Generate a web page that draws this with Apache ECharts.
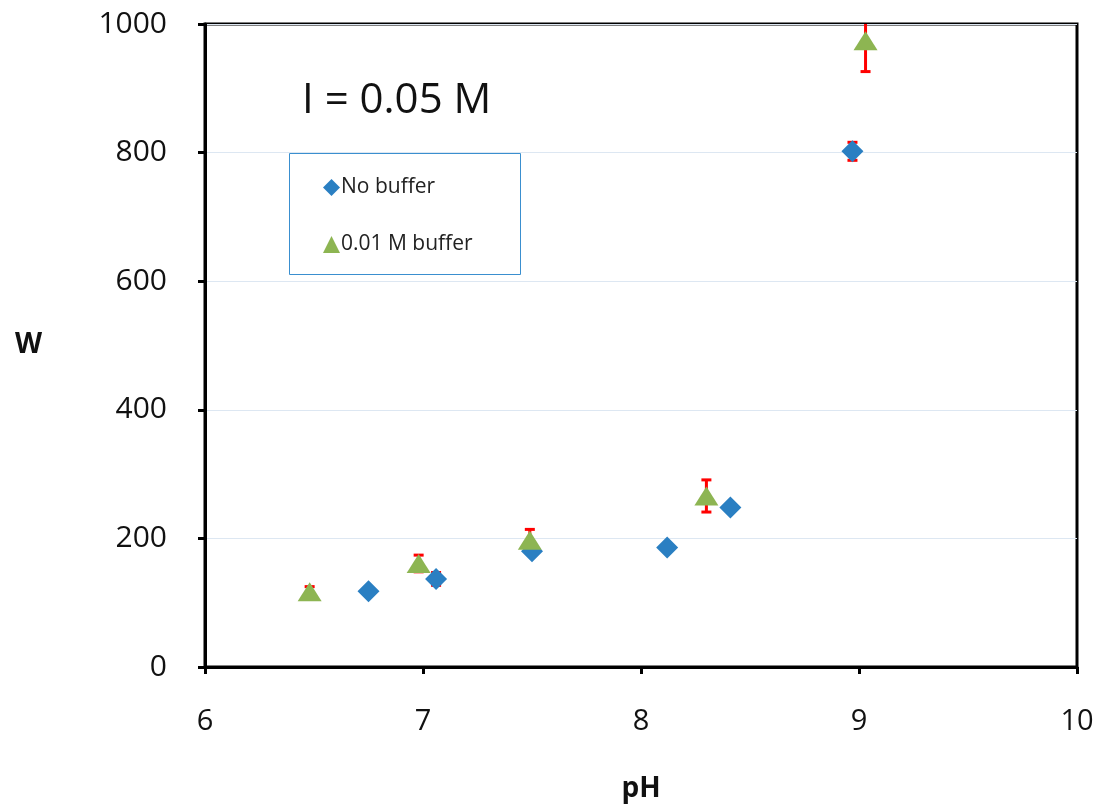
<!DOCTYPE html>
<html>
<head>
<meta charset="utf-8">
<script src="https://cdn.jsdelivr.net/npm/echarts@6/dist/echarts.min.js"></script>
<style>
html,body{margin:0;padding:0;background:#fff;}
#chart{width:1103px;height:808px;}
</style>
</head>
<body>
<div id="chart"></div>
<script>
// ---- Data ----
const phNoBuffer  = [6.75, 7.06, 7.50, 8.12, 8.41, 8.97];
const wNoBuffer   = [118, 137, 180, 186, 248, 802];
const errNoBuffer = [3, 10, 5, 3, 3, 14];

const phBuffer  = [6.48, 6.98, 7.49, 8.30, 9.03];
const wBuffer   = [117, 161, 197, 266, 974];
const errBuffer = [8, 13, 17, 25, 48];

const seriesNames = ['No buffer', '0.01 M buffer'];
const annotation = 'I = 0.05 M';
const xTicks = [6, 7, 8, 9, 10];
const yTicks = [0, 200, 400, 600, 800, 1000];

// ---- Build ----
const noBufData = phNoBuffer.map((x, i) => [x, wNoBuffer[i]]);
const bufData = phBuffer.map((x, i) => [x, wBuffer[i]]);
const errData = phNoBuffer.map((x, i) => [x, wNoBuffer[i] - errNoBuffer[i], wNoBuffer[i] + errNoBuffer[i]])
  .concat(phBuffer.map((x, i) => [x, wBuffer[i] - errBuffer[i], wBuffer[i] + errBuffer[i]]));

function renderErr(params, api) {
  const x = api.value(0);
  const lo = api.coord([x, api.value(1)]);
  const hi = api.coord([x, api.value(2)]);
  const cap = 5;
  const style = { stroke: '#ff0000', lineWidth: 3, fill: null };
  return {
    type: 'group',
    children: [
      { type: 'line', shape: { x1: lo[0], y1: lo[1], x2: hi[0], y2: hi[1] }, style: style },
      { type: 'line', shape: { x1: lo[0] - cap, y1: lo[1], x2: lo[0] + cap, y2: lo[1] }, style: style },
      { type: 'line', shape: { x1: hi[0] - cap, y1: hi[1], x2: hi[0] + cap, y2: hi[1] }, style: style }
    ]
  };
}

const chart = echarts.init(document.getElementById('chart'), null, { renderer: 'canvas' });
const fontFam = '"Open Sans", "Noto Sans", sans-serif';

chart.setOption({
  backgroundColor: '#ffffff',
  animation: false,
  grid: {
    left: 205, right: 26, top: 24, bottom: 140,
    show: true, borderColor: '#000', borderWidth: 3, backgroundColor: 'transparent'
  },
  legend: {
    data: [
      { name: seriesNames[0], icon: 'diamond' },
      { name: seriesNames[1], icon: 'triangle' }
    ],
    orient: 'vertical',
    left: 318, top: 172,
    itemWidth: 17, itemHeight: 17,
    itemGap: 36,
    textStyle: { fontFamily: fontFam, fontSize: 21, color: '#222', padding: [0, 0, 0, -4] }
  },
  graphic: [
    { type: 'rect', left: 289, top: 153, shape: { width: 231, height: 121 },
      style: { fill: 'rgba(255,255,255,0)', stroke: '#3a8fcf', lineWidth: 1 }, z: 10 },
    { type: 'text', left: 302, top: 80, style: { text: annotation, font: '42px ' + fontFam, fill: '#111' }, z: 10 }
  ],
  xAxis: {
    type: 'value', min: 6, max: 10, interval: 1,
    name: 'pH', nameLocation: 'middle', nameGap: 108,
    nameTextStyle: { fontFamily: fontFam, fontSize: 28, fontWeight: 'bold', color: '#111' },
    axisLine: { show: true, lineStyle: { color: '#000', width: 3 } },
    axisTick: { show: true, length: 7, lineStyle: { color: '#000', width: 3 } },
    axisLabel: { fontFamily: fontFam, fontSize: 29, color: '#111', margin: 40,
      formatter: v => xTicks.includes(v) ? String(v) : '' },
    splitLine: { show: false }
  },
  yAxis: {
    type: 'value', min: 0, max: 1000, interval: 200,
    name: 'W', nameLocation: 'middle', nameGap: 163, nameRotate: 0,
    nameTextStyle: { fontFamily: fontFam, fontSize: 28, fontWeight: 'bold', color: '#111' },
    axisLine: { show: true, lineStyle: { color: '#000', width: 3 } },
    axisTick: { show: true, length: 7, lineStyle: { color: '#000', width: 3 } },
    axisLabel: { fontFamily: fontFam, fontSize: 30, color: '#111', margin: 38,
      formatter: v => yTicks.includes(v) ? String(v) : '' },
    splitLine: { show: true, lineStyle: { color: '#dde7f2', width: 1 } }
  },
  series: [
    {
      type: 'custom', name: 'err', renderItem: renderErr, data: errData,
      encode: { x: 0, y: [1, 2] }, clip: true, z: 1, silent: true
    },
    {
      type: 'scatter', name: seriesNames[0], data: noBufData,
      symbol: 'diamond', symbolSize: [22, 22],
      itemStyle: { color: '#2a7fc2', opacity: 1 }, z: 2
    },
    {
      type: 'scatter', name: seriesNames[1], data: bufData,
      symbol: 'triangle', symbolSize: [24, 19],
      itemStyle: { color: '#8db552', opacity: 1 }, z: 3
    }
  ]
});
</script>
</body>
</html>
